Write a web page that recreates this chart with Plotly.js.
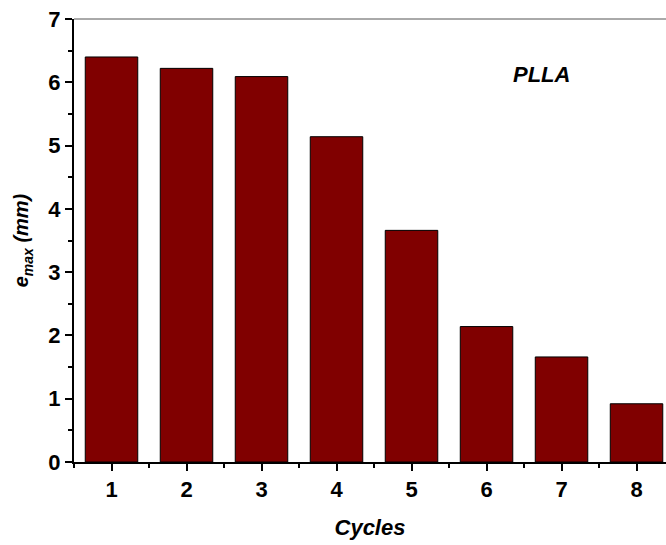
<!DOCTYPE html>
<html>
<head>
<meta charset="utf-8">
<script src="https://cdn.plot.ly/plotly-3.0.1.min.js"></script>
<style>html,body{margin:0;padding:0;background:#fff;}#chart{width:666px;height:545px;}</style>
</head>
<body>
<div id="chart"></div>
<script>
const cycles = [1, 2, 3, 4, 5, 6, 7, 8];
const emax = [6.40, 6.22, 6.09, 5.14, 3.66, 2.14, 1.66, 0.92];
const xTickLabels = ['1', '2', '3', '4', '5', '6', '7', '8'];
const yTickVals = [0, 1, 2, 3, 4, 5, 6, 7];
const yTickLabels = ['0', '1', '2', '3', '4', '5', '6', '7'];

const fam = 'Liberation Sans, Arial, sans-serif';
const bold = s => '<b>' + s + '</b>';

Plotly.newPlot('chart', [{
  type: 'bar',
  x: cycles,
  y: emax,
  width: 0.7,
  marker: {color: '#800000', line: {color: '#000', width: 1}}
}], {
  width: 666, height: 545,
  margin: {l: 74, r: 0, t: 19, b: 83},
  paper_bgcolor: '#fff', plot_bgcolor: '#fff',
  showlegend: false,
  font: {family: fam, color: '#000'},
  xaxis: {
    range: [0.5, 8.393],
    tickvals: cycles, ticktext: xTickLabels.map(bold),
    ticks: 'outside', ticklen: 7, tickwidth: 2, tickcolor: '#000',
    minor: {dtick: 1, tick0: 0.5, ticks: 'outside', ticklen: 4, tickwidth: 2, tickcolor: '#000'},
    showline: true, linecolor: '#000', linewidth: 2,
    showgrid: false, zeroline: false,
    tickfont: {family: fam, size: 22, color: '#000'},
    title: {text: '<b><i>Cycles</i></b>', font: {family: fam, size: 22, color: '#000'}, standoff: 18}
  },
  yaxis: {
    range: [0, 7],
    tickvals: yTickVals, ticktext: yTickLabels.map(bold),
    ticks: 'outside', ticklen: 7, tickwidth: 2, tickcolor: '#000',
    minor: {dtick: 0.5, tick0: 0, ticks: 'outside', ticklen: 4, tickwidth: 2, tickcolor: '#000'},
    showline: true, linecolor: '#000', linewidth: 2,
    showgrid: false, zeroline: false,
    tickfont: {family: fam, size: 22, color: '#000'},
    title: {text: '<b><i>e<sub>max</sub> (mm)</i></b>', font: {family: fam, size: 20, color: '#000'}, standoff: 14}
  },
  shapes: [{
    type: 'line', xref: 'paper', yref: 'paper', x0: 0, x1: 1, y0: 1, y1: 1,
    line: {color: '#555', width: 1}
  }],
  annotations: [{
    text: '<b><i>PLLA</i></b>', xref: 'paper', yref: 'paper',
    x: 0.79, y: 0.874, xanchor: 'center', yanchor: 'middle', showarrow: false,
    font: {family: fam, size: 22, color: '#000'}
  }]
}, {displayModeBar: false, staticPlot: true});
</script>
</body>
</html>
